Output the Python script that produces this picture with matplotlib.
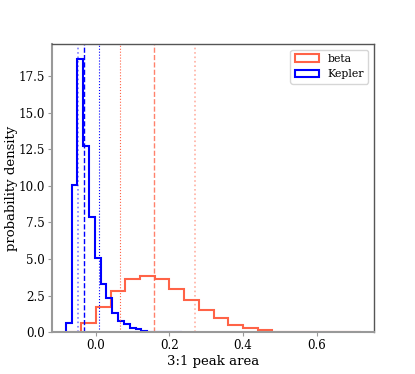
import numpy as np
import matplotlib
matplotlib.use("Agg")
import matplotlib.pyplot as plt

plt.rcParams['font.family'] = ['DejaVu Serif']

# Histogram data (densities per bin)
beta_edges_start = -0.08
beta_edges_stop = 0.72
beta_heights = [0.0, 0.64, 1.73, 2.82, 3.64, 3.83, 3.60, 2.98, 2.23, 1.50,
                0.98, 0.50, 0.25, 0.12, 0.04, 0.02, 0.01, 0.01, 0.005, 0.005]
kepler_edges_start = -0.082
kepler_edges_stop = 0.234
kepler_heights = [0.64, 10.05, 18.7, 12.7, 7.9, 5.1, 3.3, 2.3, 1.3, 0.77,
                  0.53, 0.30, 0.18, 0.09, 0.04, 0.03, 0.02, 0.01, 0.01, 0.01]

# Percentile lines (lower, median, upper)
beta_lines = [0.064, 0.158, 0.270]
kepler_lines = [-0.050, -0.032, 0.009]

labels = ["beta", "Kepler"]
xticks = [0.0, 0.2, 0.4, 0.6]
yticks = [0.0, 2.5, 5.0, 7.5, 10.0, 12.5, 15.0, 17.5]

red = '#ff6347'
blue = '#0000ff'

fig = plt.figure(figsize=(4.15, 3.74), dpi=100)
ax = fig.add_subplot(111)

be = np.linspace(beta_edges_start, beta_edges_stop, len(beta_heights) + 1)
ke = np.linspace(kepler_edges_start, kepler_edges_stop, len(kepler_heights) + 1)
bc = 0.5 * (be[:-1] + be[1:])
kc = 0.5 * (ke[:-1] + ke[1:])

ax.hist(bc, bins=be, weights=beta_heights, histtype='step', color=red,
        lw=1.5, label=labels[0])
ax.hist(kc, bins=ke, weights=kepler_heights, histtype='step', color=blue,
        lw=1.5, label=labels[1])

ax.axvline(beta_lines[0], color=red, ls=':', lw=0.8)
ax.axvline(beta_lines[1], color=red, ls='--', lw=1.0, alpha=0.8)
ax.axvline(beta_lines[2], color=red, ls=':', lw=1.2, alpha=0.5)
ax.axvline(kepler_lines[0], color=blue, ls=':', lw=1.2, alpha=0.5)
ax.axvline(kepler_lines[1], color=blue, ls='--', lw=1.0)
ax.axvline(kepler_lines[2], color=blue, ls=':', lw=0.8)

ax.set_xlim(-0.12, 0.755)
ax.set_ylim(0, 19.7)
ax.set_xticks(xticks)
ax.set_yticks(yticks)
ax.tick_params(labelsize=8.6, length=3, pad=2, color='#999999')
ax.set_xlabel("3:1 peak area", fontsize=9.5, labelpad=2)
ax.set_ylabel("probability density", fontsize=9.5, labelpad=0.5)

for s in ['left', 'bottom']:
    ax.spines[s].set_color('#999999')
    ax.spines[s].set_linewidth(1.5)
for s in ['top', 'right']:
    ax.spines[s].set_color('#555555')
    ax.spines[s].set_linewidth(1.0)

leg = ax.legend(loc='upper right', fontsize=7.8, handlelength=2.2)

fig.subplots_adjust(left=0.125, right=0.9, bottom=0.112, top=0.882)
fig.savefig('out.png', dpi=100)
